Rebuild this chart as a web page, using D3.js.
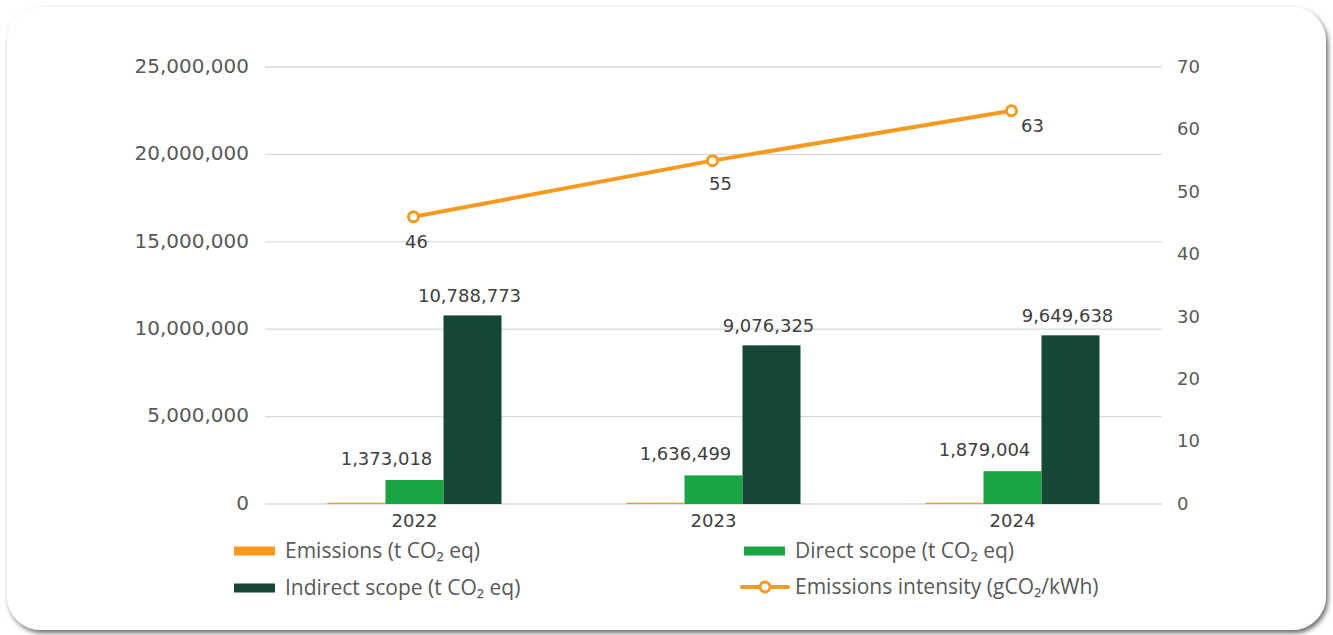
<!DOCTYPE html>
<html>
<head>
<meta charset="utf-8">
<script src="https://cdn.jsdelivr.net/npm/d3@7/dist/d3.min.js"></script>
<style>
  html, body { margin: 0; padding: 0; background: #ffffff; }
  svg { display: block; }
</style>
</head>
<body>
<svg id="chart" width="1333" height="635"></svg>
<script>
// ---- data ----
const years = ["2022", "2023", "2024"];
const emissions = [70000, 70000, 70000];          // t CO2 eq
const directScope = [1373018, 1636499, 1879004];  // t CO2 eq
const indirectScope = [10788773, 9076325, 9649638]; // t CO2 eq
const intensity = [46, 55, 63];                   // gCO2/kWh
const leftTicks = [0, 5000000, 10000000, 15000000, 20000000, 25000000];
const rightTicks = [0, 10, 20, 30, 40, 50, 60, 70];

const seriesNames = ["Emissions (t CO\u2082 eq)", "Direct scope (t CO\u2082 eq)",
                     "Indirect scope (t CO\u2082 eq)", "Emissions intensity (gCO\u2082/kWh)"];

// ---- style ----
const colors = { emissions: "#F7991F", direct: "#1AA443", indirect: "#144734", line: "#F7991F" };
const axisFont = "DejaVu Sans";
const legendFont = "Open Sans";

const svg = d3.select("#chart");

// card with soft shadow
const defs = svg.append("defs");
const f = defs.append("filter").attr("id", "shadow")
  .attr("x", "-5%").attr("y", "-5%").attr("width", "110%").attr("height", "115%");
f.append("feDropShadow").attr("dx", 2).attr("dy", 3).attr("stdDeviation", 2.5)
  .attr("flood-color", "#000").attr("flood-opacity", 0.6);

svg.append("rect")
  .attr("x", 7).attr("y", 7).attr("width", 1319).attr("height", 623)
  .attr("rx", 34).attr("ry", 34)
  .attr("fill", "#ffffff")
  .attr("filter", "url(#shadow)");

// ---- scales ----
const plotLeft = 265, plotRight = 1162, plotTop = 67, plotBottom = 504;

const x = d3.scaleBand().domain(years).range([plotLeft, plotRight]);
const keys = ["emissions", "direct", "indirect"];
const groupWidth = 174;
const x1 = d3.scaleBand().domain(keys).range([0, groupWidth]);
const yL = d3.scaleLinear().domain([0, 25000000]).range([plotBottom, plotTop]);
const yR = d3.scaleLinear().domain([0, 70]).range([plotBottom, plotTop]);

const fmt = d3.format(",");

// ---- gridlines ----
svg.append("g").selectAll("line").data(leftTicks).join("line")
  .attr("x1", plotLeft).attr("x2", plotRight)
  .attr("y1", d => yL(d)).attr("y2", d => yL(d))
  .attr("stroke", "#d9d9d9").attr("stroke-width", 1.3);

// ---- left axis ----
const leftAxis = d3.axisLeft(yL).tickValues(leftTicks).tickFormat(fmt).tickSize(0).tickPadding(16);
const gL = svg.append("g").attr("transform", `translate(${plotLeft},0)`).call(leftAxis);
gL.select(".domain").remove();
gL.selectAll("text").attr("font-family", axisFont).attr("font-size", 20)
  .attr("fill", "#595959").attr("dy", "0.26em");

// ---- right axis ----
const rightAxis = d3.axisRight(yR).tickValues(rightTicks).tickSize(0).tickPadding(15);
const gR = svg.append("g").attr("transform", `translate(${plotRight},0)`).call(rightAxis);
gR.select(".domain").remove();
gR.selectAll("text").attr("font-family", axisFont).attr("font-size", 18)
  .attr("fill", "#595959").attr("dy", "0.3em");

// ---- bottom axis ----
const bottomAxis = d3.axisBottom(x).tickSize(0).tickPadding(10);
const gB = svg.append("g").attr("transform", `translate(0,${plotBottom})`).call(bottomAxis);
gB.select(".domain").remove();
gB.selectAll("text").attr("font-family", axisFont).attr("font-size", 18)
  .attr("fill", "#404040").attr("dy", "0.72em");

// ---- bars ----
const rows = years.map((yr, i) => ({
  year: yr,
  values: [
    { key: "emissions", v: emissions[i] },
    { key: "direct", v: directScope[i] },
    { key: "indirect", v: indirectScope[i] }
  ]
}));

const groups = svg.append("g").selectAll("g").data(rows).join("g")
  .attr("transform", d => `translate(${x(d.year) + x.bandwidth() / 2 - groupWidth / 2},0)`);

groups.selectAll("rect").data(d => d.values).join("rect")
  .attr("x", d => x1(d.key))
  .attr("width", x1.bandwidth())
  .attr("y", d => yL(d.v))
  .attr("height", d => plotBottom - yL(d.v))
  .attr("fill", d => colors[d.key]);

// bar value labels (direct and indirect scope)
const labelOffset = { direct: { dx: -28, dy: -15 }, indirect: { dx: -3, dy: -13 } };
groups.selectAll("text").data(d => d.values.filter(v => v.key !== "emissions")).join("text")
  .attr("x", d => x1(d.key) + x1.bandwidth() / 2 + labelOffset[d.key].dx)
  .attr("y", d => yL(d.v) + labelOffset[d.key].dy)
  .attr("text-anchor", "middle")
  .attr("font-family", axisFont).attr("font-size", 18)
  .attr("fill", "#404040")
  .text(d => fmt(d.v));

// ---- intensity line ----
const pts = years.map((yr, i) => ({ year: yr, v: intensity[i] }));
const line = d3.line().x(d => x(d.year) + x.bandwidth() / 2 - 1).y(d => yR(d.v));

svg.append("path").datum(pts)
  .attr("d", line)
  .attr("fill", "none")
  .attr("stroke", colors.line)
  .attr("stroke-width", 4)
  .attr("stroke-linejoin", "round");

svg.append("g").selectAll("circle").data(pts).join("circle")
  .attr("cx", d => x(d.year) + x.bandwidth() / 2 - 1)
  .attr("cy", d => yR(d.v))
  .attr("r", 5)
  .attr("fill", "#ffffff")
  .attr("stroke", colors.line)
  .attr("stroke-width", 3);

const pointLabelOffset = [{ dx: 2, dy: 31 }, { dx: 7, dy: 29 }, { dx: 20, dy: 21 }];
svg.append("g").selectAll("text").data(pts).join("text")
  .attr("x", (d, i) => x(d.year) + x.bandwidth() / 2 + pointLabelOffset[i].dx)
  .attr("y", (d, i) => yR(d.v) + pointLabelOffset[i].dy)
  .attr("text-anchor", "middle")
  .attr("font-family", axisFont).attr("font-size", 18)
  .attr("fill", "#404040")
  .text(d => d.v);

// ---- legend ----
const legendItems = [
  { name: seriesNames[0], type: "bar", color: colors.emissions, x: 234, y: 551 },
  { name: seriesNames[1], type: "bar", color: colors.direct, x: 744, y: 551 },
  { name: seriesNames[2], type: "bar", color: colors.indirect, x: 234, y: 588 },
  { name: seriesNames[3], type: "line", color: colors.line, x: 742, y: 587 }
];
const lg = svg.append("g").selectAll("g").data(legendItems).join("g")
  .attr("transform", d => `translate(${d.x},${d.y})`);

lg.filter(d => d.type === "bar").append("rect")
  .attr("x", 0).attr("y", -4.5).attr("width", 41).attr("height", 9)
  .attr("fill", d => d.color);

const lineItems = lg.filter(d => d.type === "line");
lineItems.append("line")
  .attr("x1", 0).attr("x2", 46).attr("y1", 0).attr("y2", 0)
  .attr("stroke", d => d.color).attr("stroke-width", 4).attr("stroke-linecap", "round");
lineItems.append("circle")
  .attr("cx", 23).attr("cy", 0).attr("r", 5)
  .attr("fill", "#fff").attr("stroke", d => d.color).attr("stroke-width", 3);

lg.append("text")
  .attr("x", d => d.type === "bar" ? 51 : 53)
  .attr("y", 0).attr("dy", "0.35em")
  .attr("font-family", legendFont).attr("font-size", 21)
  .attr("fill", "#595959")
  .text(d => d.name);
</script>
</body>
</html>
